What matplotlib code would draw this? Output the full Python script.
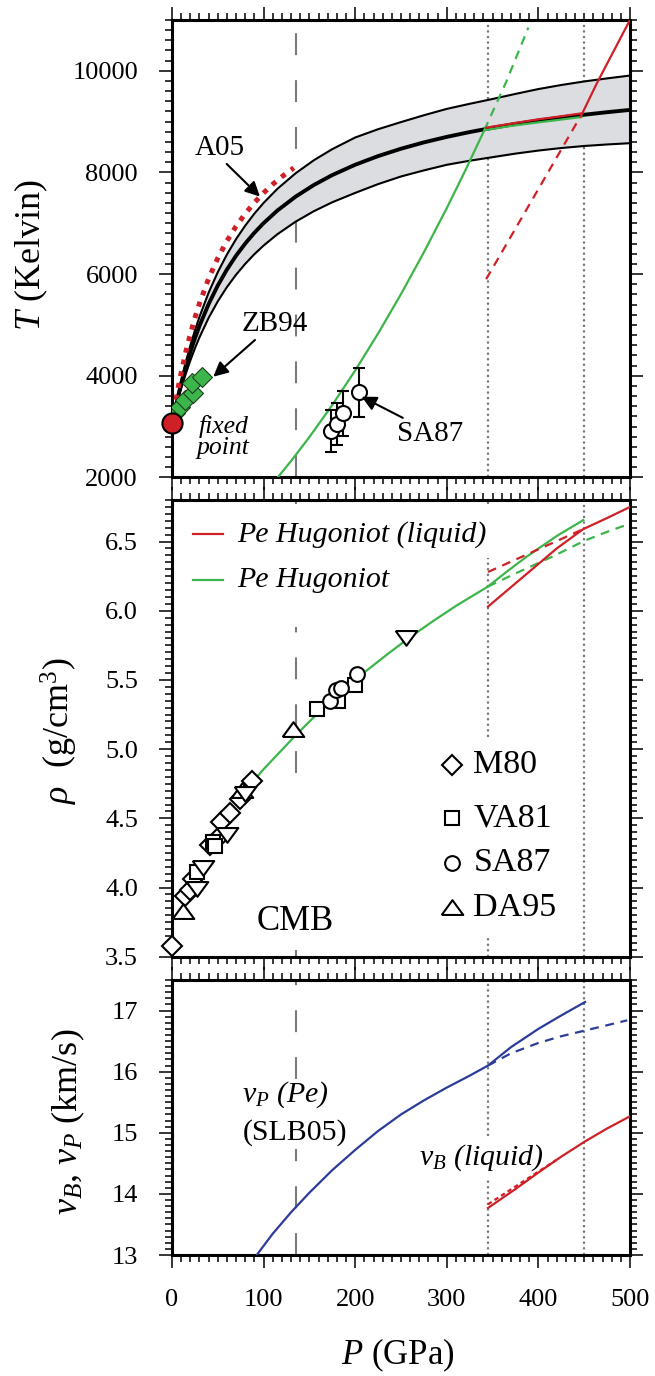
import numpy as np
import matplotlib.pyplot as plt
from matplotlib.ticker import MultipleLocator, FormatStrFormatter

plt.rcParams['font.family'] = ['Liberation Serif', 'DejaVu Serif']
plt.rcParams['mathtext.fontset'] = 'custom'
plt.rcParams['mathtext.rm'] = 'Liberation Serif'
plt.rcParams['mathtext.it'] = 'Liberation Serif:italic'
plt.rcParams['mathtext.bf'] = 'Liberation Serif:bold'

RED = '#cf2027'
GREEN = '#3cb54a'
BLUE = '#2c3c98'
GREY = '#7a7a7a'
BAND = '#dcdde0'

# phase boundaries (GPa)
P_CMB = 135
P_LOW = 345
P_HIGH = 450

# ---------------- temperature panel ----------------
p_melt = [0, 2.5, 5, 7.5, 10, 15, 20, 25, 30, 40, 50, 60, 70, 80, 90, 100, 115, 135,
          155, 175, 200, 225, 250, 275, 300, 325, 350, 375, 400, 425, 450, 475, 500]
t_melt = [3060, 3272, 3472, 3660, 3839, 4168, 4465, 4734, 4980, 5410, 5776, 6090, 6363,
          6602, 6814, 7002, 7249, 7524, 7754, 7948, 8151, 8321, 8466, 8591, 8699, 8794,
          8878, 8953, 9020, 9080, 9135, 9185, 9230]
t_melt_hi = [3060, 3290, 3508, 3714, 3908, 4268, 4594, 4890, 5159, 5634, 6038, 6386, 6689,
             6955, 7190, 7400, 7676, 7984, 8241, 8458, 8687, 8850, 8990, 9125, 9250, 9350,
             9445, 9545, 9640, 9720, 9790, 9850, 9906]
t_melt_lo = [3060, 3246, 3422, 3588, 3745, 4036, 4299, 4538, 4755, 5138, 5464, 5744, 5988,
             6202, 6392, 6561, 6783, 7031, 7238, 7413, 7597, 7770, 7920, 8040, 8150, 8230,
             8300, 8370, 8430, 8480, 8520, 8550, 8575]

p_a05 = [0, 2.5, 5, 7.5, 10, 15, 20, 25, 30, 40, 50, 60, 70, 80, 90, 100, 110, 120, 133]
t_a05 = [3060, 3337, 3594, 3834, 4057, 4463, 4820, 5139, 5423, 5911, 6314, 6653, 6941,
         7190, 7407, 7597, 7766, 7916, 8089]

p_zb94 = [3.3, 8.7, 14.2, 23.3, 21.5, 32.4]
t_zb94 = [3260, 3390, 3522, 3654, 3850, 3980]

p_fixed, t_fixed = 0, 3060

p_sa87_t = [174, 180.5, 186.7, 204]
t_sa87 = [2913, 3045, 3262, 3670]
t_sa87_err = [410, 410, 445, 490]

p_hug_t = [115.5, 130, 150, 175, 200, 225, 250, 275, 300, 320, 341, 370, 400, 425, 447]
t_hug = [2000, 2322, 2792, 3424, 4103, 4830, 5605, 6428, 7298, 8030, 8831, 8915, 8985, 9040, 9090]
p_hug_t_ext = [341, 365, 389]
t_hug_ext = [8831, 9787, 10850]

p_liq_t = [343, 370, 400, 425, 448, 464, 482, 500]
t_liq = [8880, 8960, 9045, 9105, 9165, 9760, 10380, 11000]
p_liq_t_ext = [343, 448]
t_liq_ext = [5900, 9165]

# ---------------- density panel ----------------
p_hug_rho = [85, 100, 115, 135, 160, 185, 210, 235, 260, 285, 310, 345, 365, 387, 420, 449]
rho_hug = [4.74, 4.855, 4.96, 5.10, 5.265, 5.415, 5.555, 5.685, 5.81, 5.925, 6.035, 6.175,
           6.28, 6.39, 6.54, 6.655]
p_hug_rho_ext = [345, 380, 415, 450, 475, 500]
rho_hug_ext = [6.175, 6.285, 6.39, 6.505, 6.57, 6.63]

p_liq_rho = [345, 370, 395, 420, 449, 475, 500]
rho_liq = [6.03, 6.17, 6.31, 6.45, 6.59, 6.67, 6.75]
p_liq_rho_ext = [345, 449]
rho_liq_ext = [6.28, 6.59]

p_m80 = [0, 14.2, 19.7, 23.3, 41.5, 50.5, 54, 63.3, 74, 87]
rho_m80 = [3.576, 3.94, 3.98, 4.06, 4.31, 4.36, 4.47, 4.54, 4.64, 4.77]
p_va81 = [27, 45, 47, 158, 181.6, 200]
rho_va81 = [4.11, 4.33, 4.30, 5.29, 5.345, 5.465]
p_sa87 = [172.5, 179, 185, 201.6]
rho_sa87 = [5.345, 5.43, 5.44, 5.545]
p_da95 = [12.4, 76, 131.7]
rho_da95 = [3.82, 4.70, 5.14]
p_da95_dn = [27, 34, 59.7, 80, 256]
rho_da95_dn = [4.00, 4.15, 4.39, 4.68, 5.81]

# ---------------- velocity panel ----------------
p_vp = [92.5, 110, 130, 150, 175, 200, 225, 250, 275, 300, 325, 345, 370, 400, 425, 451]
vp = [13.0, 13.35, 13.70, 14.02, 14.39, 14.72, 15.03, 15.30, 15.53, 15.74, 15.935, 16.10,
      16.40, 16.70, 16.92, 17.14]
p_vp_ext = [345, 370, 400, 425, 450, 475, 497]
vp_ext = [16.10, 16.30, 16.47, 16.58, 16.67, 16.76, 16.84]

p_vb = [345, 375, 400, 425, 451, 475, 500]
vb = [13.77, 14.08, 14.35, 14.61, 14.86, 15.07, 15.27]
p_vb_ext = [345, 420]
vb_ext = [13.83, 14.56]

# triangle markers, a little flatter than matplotlib's own
tri_up = [(-1, -0.6), (1, -0.6), (0, 0.77), (-1, -0.6)]
tri_dn = [(x, -y) for x, y in tri_up]

fig = plt.figure(figsize=(6.55, 13.76), dpi=100)
ax1 = fig.add_axes([0.2626, 0.6531, 0.6992, 0.3324])
ax2 = fig.add_axes([0.2626, 0.3047, 0.6992, 0.3319])
ax3 = fig.add_axes([0.2626, 0.0879, 0.6992, 0.1999])

for ax in (ax1, ax2, ax3):
    ax.set_xlim(0, 500)
    ax.xaxis.set_major_locator(MultipleLocator(100))
    ax.xaxis.set_minor_locator(MultipleLocator(10))
    ax.tick_params(which='both', direction='out', top=True, right=True,
                   width=1.1, labelsize=19, pad=15)
    ax.tick_params(which='major', length=9.5)
    ax.tick_params(which='minor', length=5)
    for s in ax.spines.values():
        s.set_linewidth(2.2)
ax1.tick_params(labelbottom=False)
ax2.tick_params(labelbottom=False)

cmb_style = dict(color=GREY, lw=1.5, linestyle=(0, (10.5, 12)), zorder=1)
dot_style = dict(color=GREY, lw=1.6, linestyle=(0, (1, 1.5)), zorder=1)
dash = (0, (4, 3))

# ---- T panel ----
ax1.set_ylim(2000, 11000)
ax1.yaxis.set_major_locator(MultipleLocator(2000))
ax1.yaxis.set_minor_locator(MultipleLocator(200))

ax1.axvline(P_CMB, **cmb_style)
ax1.axvline(P_LOW, **dot_style)
ax1.axvline(P_HIGH, **dot_style)

ax1.fill_between(p_melt, t_melt_lo, t_melt_hi, color=BAND, zorder=2, lw=0)
ax1.plot(p_melt, t_melt_hi, color='k', lw=1.5, zorder=3)
ax1.plot(p_melt, t_melt_lo, color='k', lw=1.5, zorder=3)
ax1.plot(p_melt, t_melt, color='k', lw=2.8, zorder=3)

ax1.plot(p_a05, t_a05, color=RED, lw=3.6, linestyle=(0, (1, 1.4)), zorder=4)

ax1.plot(p_hug_t, t_hug, color=GREEN, lw=1.6, zorder=4)
ax1.plot(p_hug_t_ext, t_hug_ext, color=GREEN, lw=1.6, linestyle=dash, zorder=4)
ax1.plot(p_liq_t, t_liq, color=RED, lw=1.6, zorder=5)
ax1.plot(p_liq_t_ext, t_liq_ext, color=RED, lw=1.6, linestyle=dash, zorder=5)

ax1.plot(p_zb94, t_zb94, 'D', ms=10, mfc=GREEN, mec='#1f3f1f', mew=0.8, zorder=6)
ax1.errorbar(p_sa87_t, t_sa87, yerr=t_sa87_err, fmt='o', ms=10.8, mfc='white',
             mec='k', mew=1.5, ecolor='k', elinewidth=1.5, capsize=4.5, capthick=1.5, zorder=6)
ax1.plot([p_fixed], [t_fixed], 'o', ms=14.5, mfc=RED, mec='k', mew=1.5, zorder=8, clip_on=False)

arrow = dict(arrowstyle='-|>', color='k', lw=1.5, mutation_scale=22, shrinkA=0, shrinkB=0)
ax1.annotate('', xy=(96, 7524), xytext=(59.7, 8167), arrowprops=arrow, zorder=7)
ax1.annotate('', xy=(45.1, 3980), xytext=(90.6, 4703), arrowprops=arrow, zorder=7)
ax1.annotate('', xy=(207, 3587), xytext=(252, 3170), arrowprops=arrow, zorder=7)
ax1.text(52.4, 8476, 'A05', fontsize=21, ha='center', va='center')
ax1.text(112.4, 5018, 'ZB94', fontsize=21, ha='center', va='center')
ax1.text(281.5, 2852, 'SA87', fontsize=21, ha='center', va='center')
ax1.text(56, 3010, 'fixed', fontsize=18.5, style='italic', ha='center', va='center')
ax1.text(56, 2570, 'point', fontsize=18.5, style='italic', ha='center', va='center')

ax1.set_ylabel(r'$T$ (Kelvin)', fontsize=26)
ax1.yaxis.set_label_coords(-0.266, 0.486)

# ---- rho panel ----
ax2.set_ylim(3.5, 6.8)
ax2.yaxis.set_major_locator(MultipleLocator(0.5))
ax2.yaxis.set_minor_locator(MultipleLocator(0.05))
ax2.yaxis.set_major_formatter(FormatStrFormatter('%.1f'))

ax2.plot([P_CMB, P_CMB], [6.77, 6.8], **cmb_style)
ax2.plot([P_CMB, P_CMB], [4.83, 5.88], **cmb_style)
ax2.plot([P_CMB, P_CMB], [3.5, 3.55], **cmb_style)
ax2.plot([P_LOW, P_LOW], [6.77, 6.8], **dot_style)
ax2.plot([P_LOW, P_LOW], [5.09, 6.38], **dot_style)
ax2.plot([P_LOW, P_LOW], [3.5, 3.66], **dot_style)
ax2.axvline(P_HIGH, **dot_style)

ax2.plot(p_hug_rho, rho_hug, color=GREEN, lw=1.6, zorder=3)
ax2.plot(p_hug_rho_ext, rho_hug_ext, color=GREEN, lw=1.6, linestyle=dash, zorder=3)
ax2.plot(p_liq_rho, rho_liq, color=RED, lw=1.6, zorder=3)
ax2.plot(p_liq_rho_ext, rho_liq_ext, color=RED, lw=1.6, linestyle=dash, zorder=3)

open_mk = dict(ls='none', mfc='white', mec='k', mew=1.5, zorder=5, clip_on=False)
ax2.plot(p_m80, rho_m80, marker='D', ms=10, **open_mk)
ax2.plot(p_va81, rho_va81, marker='s', ms=10.5, **open_mk)
ax2.plot(p_sa87, rho_sa87, marker='o', ms=10.6, **open_mk)
ax2.plot(p_da95, rho_da95, marker=tri_up, ms=15.5, **open_mk)
ax2.plot(p_da95_dn, rho_da95_dn, marker=tri_dn, ms=15.5, **open_mk)

# line key, upper left
ax2.plot([23.3, 56], [6.553, 6.553], color=RED, lw=1.6)
ax2.plot([23.3, 56], [6.223, 6.223], color=GREEN, lw=1.6)
ax2.text(70.6, 6.553, 'Pe Hugoniot (liquid)', fontsize=21.5, style='italic', va='center')
ax2.text(70.6, 6.223, 'Pe Hugoniot', fontsize=21.5, style='italic', va='center')

# symbol key, lower right
sym_p = 305.5
for mk, ms, rho, lab in [('D', 10, 4.888, 'M80'), ('s', 10.5, 4.503, 'VA81'),
                         ('o', 10.6, 4.178, 'SA87'), (tri_up, 15.5, 3.853, 'DA95')]:
    ax2.plot([sym_p], [rho], marker=mk, ms=ms, **open_mk)
    ax2.text(329, rho, lab, fontsize=24.5, va='center')

ax2.text(134.3, 3.754, 'CMB', fontsize=25, ha='center', va='center')

ax2.set_ylabel(r'$\rho$  (g/cm$^3$)', fontsize=26)
ax2.yaxis.set_label_coords(-0.201, 0.496)

# ---- velocity panel ----
ax3.set_ylim(13, 17.5)
ax3.yaxis.set_major_locator(MultipleLocator(1))
ax3.yaxis.set_minor_locator(MultipleLocator(0.1))

ax3.plot([P_CMB, P_CMB], [15.88, 17.5], **cmb_style)
ax3.plot([P_CMB, P_CMB], [13, 14.73], **cmb_style)
ax3.plot([P_LOW, P_LOW], [14.95, 17.5], **dot_style)
ax3.plot([P_LOW, P_LOW], [13, 14.25], **dot_style)
ax3.axvline(P_HIGH, **dot_style)

ax3.plot(p_vp, vp, color=BLUE, lw=1.6, zorder=3)
ax3.plot(p_vp_ext, vp_ext, color=BLUE, lw=1.6, linestyle=dash, zorder=3)
ax3.plot(p_vb, vb, color=RED, lw=1.6, zorder=3)
ax3.plot(p_vb_ext, vb_ext, color=RED, lw=1.6, linestyle=(0, (2, 1.5)), zorder=3)

ax3.text(124, 15.63, r'$v_P$ (Pe)', fontsize=21.5, style='italic', ha='center', va='center')
ax3.text(134.8, 15.0, '(SLB05)', fontsize=21.5, ha='center', va='center')
ax3.text(338, 14.6, r'$v_B$ (liquid)', fontsize=21.5, style='italic', ha='center', va='center')

ax3.set_ylabel(r'$v_B$, $v_P$ (km/s)', fontsize=26)
ax3.yaxis.set_label_coords(-0.186, 0.485)
ax3.set_xlabel(r'$P$ (GPa)', fontsize=25)
ax3.xaxis.label.set_va('center')
ax3.xaxis.set_label_coords(0.493, -0.364)

fig.savefig('out.png', dpi=100)
